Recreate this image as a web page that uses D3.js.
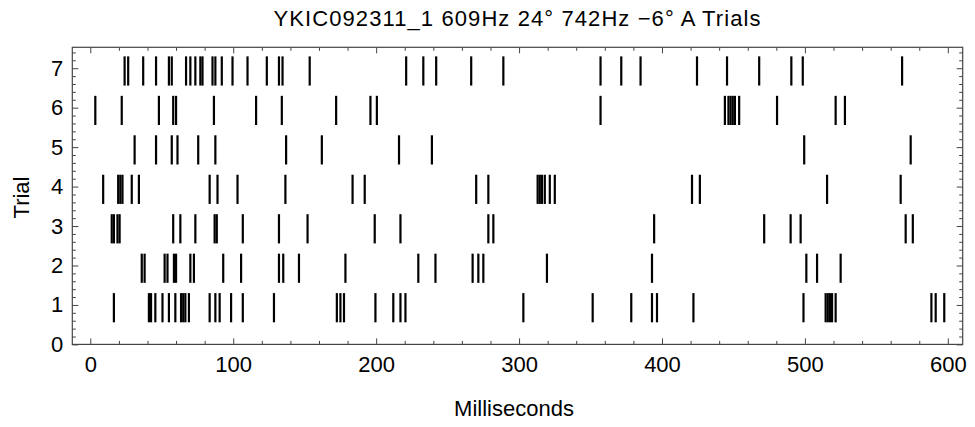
<!DOCTYPE html>
<html>
<head>
<meta charset="utf-8">
<script src="https://cdn.jsdelivr.net/npm/d3@7"></script>
<style>
  html, body { margin: 0; padding: 0; background: #fff; }
  svg { display: block; font-family: "Liberation Sans", Arial, sans-serif; }
</style>
</head>
<body>
<div id="chart"></div>
<script>
// spike times (ms) per trial
const trial1 = [16.5, 41, 42.5, 45.5, 50.5, 55, 59.5, 63.5, 65, 66.5, 69, 83.5, 87.5, 90.5, 98.5, 106.7, 128.5, 172.5, 175, 177.5, 199.5, 212, 217, 220.5, 303, 351.5, 378.5, 393, 396.5, 422, 499, 514.5, 516, 517.5, 519, 521.5, 588.5, 591.5, 597.5];
const trial2 = [36, 38, 52, 54, 58.5, 60, 70, 72.5, 93, 105.5, 132, 135, 146, 178.5, 229.5, 241.5, 267.5, 271.5, 275, 319.5, 393, 501, 508.5, 525];
const trial3 = [15, 16.5, 19, 20.5, 58, 63, 73.5, 87, 88.5, 106.7, 132, 152, 199, 217, 278.5, 282, 394.5, 471.5, 490, 497, 570.5, 575.5];
const trial4 = [9, 19.5, 21, 22.5, 29, 34, 83.5, 89, 103, 136.5, 183.5, 192, 270, 278.5, 313, 314.5, 316, 318, 321.5, 325, 421, 426.5, 515.5, 567];
const trial5 = [31, 46, 57, 61, 75.5, 87.5, 137, 162, 216, 239, 499.5, 574];
const trial6 = [3.5, 22, 48, 58, 60, 86.5, 116, 134, 172, 196, 200.5, 357, 444, 446.5, 448, 449.5, 451, 454, 480.5, 521.5, 528];
const trial7 = [24, 26.5, 37, 46, 55, 57, 67, 70, 73.5, 77, 78.5, 85.5, 87.5, 92, 99.5, 110, 123.5, 132, 134.5, 153.5, 221, 233, 242, 266.5, 289, 357, 371.5, 385, 424.5, 445.5, 468, 490.5, 498.5, 568];

const trials = [trial1, trial2, trial3, trial4, trial5, trial6, trial7];
const xTicks = [0, 100, 200, 300, 400, 500, 600];
const yTicks = [0, 1, 2, 3, 4, 5, 6, 7];
const title = "YKIC092311_1 609Hz 24\u00B0 742Hz \u22126\u00B0 A Trials";

const width = 975, height = 427;
const margin = { top: 47.3, right: 12.3, bottom: 82.6, left: 72.3 };
const w = width - margin.left - margin.right;
const h = height - margin.top - margin.bottom;

const svg = d3.select('#chart').append('svg')
    .attr('width', width)
    .attr('height', height);

const g = svg.append('g')
    .attr('transform', `translate(${margin.left},${margin.top})`);

const x = d3.scaleLinear().domain([-12.6, 610.4]).range([0, w]);
const y = d3.scaleLinear().domain([0, 7.53]).range([h, 0]);

// flatten spikes
const spikes = [];
trials.forEach((arr, i) => arr.forEach(t => spikes.push({ trial: i + 1, t })));

g.selectAll('.spike')
    .data(spikes)
    .enter()
    .append('line')
    .attr('class', 'spike')
    .attr('x1', d => x(d.t))
    .attr('x2', d => x(d.t))
    .attr('y1', d => y(d.trial + 0.3))
    .attr('y2', d => y(d.trial - 0.44))
    .attr('stroke', '#000')
    .attr('stroke-width', 2.2);

// minor ticks
const xMinor = d3.range(0, 601, 20).filter(v => v % 100 !== 0);
const yMinor = d3.range(0, 7.5, 0.2).map(v => +v.toFixed(1)).filter(v => Math.abs(v - Math.round(v)) > 0.01);

function styleAxis(sel) {
    sel.select('.domain').remove();
    sel.selectAll('.tick line').attr('stroke', '#444').attr('stroke-width', 1);
    sel.selectAll('.tick text')
        .attr('fill', '#000')
        .style('font-size', '22px')
        .style('font-family', '"Liberation Sans", Arial, sans-serif');
}

g.append('g')
    .attr('transform', `translate(0,${h})`)
    .call(d3.axisBottom(x).tickValues(xTicks).tickSize(-6).tickPadding(12).tickFormat(d3.format('d')))
    .call(styleAxis);
g.append('g')
    .attr('transform', `translate(0,${h})`)
    .call(d3.axisBottom(x).tickValues(xMinor).tickSize(-3.5).tickFormat(''))
    .call(styleAxis);
g.append('g')
    .call(d3.axisTop(x).tickValues(xTicks).tickSize(-6).tickFormat(''))
    .call(styleAxis);
g.append('g')
    .call(d3.axisTop(x).tickValues(xMinor).tickSize(-3.5).tickFormat(''))
    .call(styleAxis);

g.append('g')
    .call(d3.axisLeft(y).tickValues(yTicks).tickSize(-6).tickPadding(9).tickFormat(d3.format('d')))
    .call(styleAxis);
g.append('g')
    .call(d3.axisLeft(y).tickValues(yMinor).tickSize(-3.5).tickFormat(''))
    .call(styleAxis);
g.append('g')
    .attr('transform', `translate(${w},0)`)
    .call(d3.axisRight(y).tickValues(yTicks).tickSize(-6).tickFormat(''))
    .call(styleAxis);
g.append('g')
    .attr('transform', `translate(${w},0)`)
    .call(d3.axisRight(y).tickValues(yMinor).tickSize(-3.5).tickFormat(''))
    .call(styleAxis);

// frame
g.append('rect')
    .attr('width', w)
    .attr('height', h)
    .attr('fill', 'none')
    .attr('stroke', '#444')
    .attr('stroke-width', 1.2);

// labels
svg.append('text')
    .attr('x', 517)
    .attr('y', 26)
    .attr('text-anchor', 'middle')
    .attr('textLength', 487)
    .attr('lengthAdjust', 'spacing')
    .style('font-size', '22px')
    .text(title);

svg.append('text')
    .attr('x', 514)
    .attr('y', 416)
    .attr('text-anchor', 'middle')
    .style('font-size', '22px')
    .text('Milliseconds');

svg.append('text')
    .attr('transform', 'translate(28.5,197.5) rotate(-90)')
    .attr('text-anchor', 'middle')
    .style('font-size', '22px')
    .text('Trial');
</script>
</body>
</html>
